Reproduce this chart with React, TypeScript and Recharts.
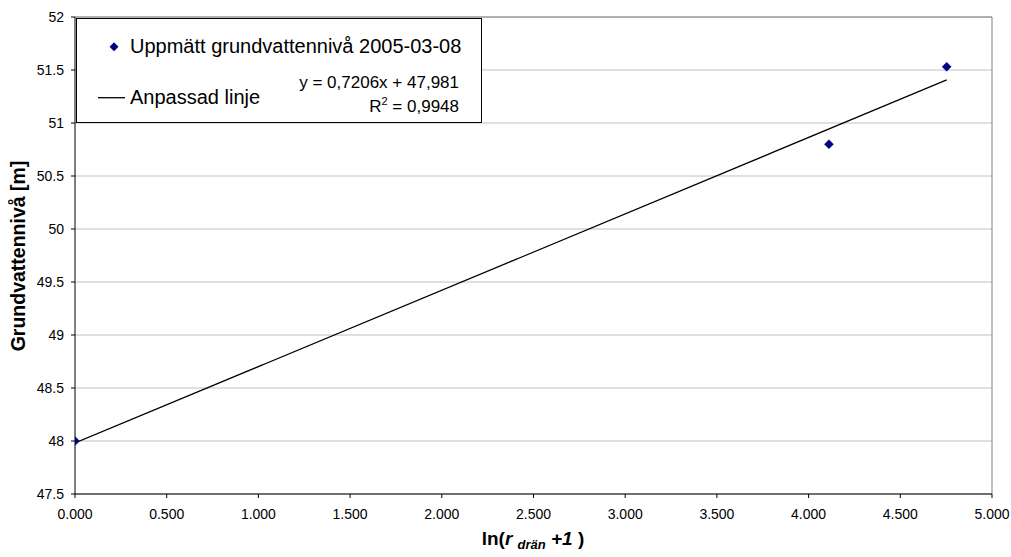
import React from 'react';
import { ScatterChart, Scatter, XAxis, YAxis, CartesianGrid, ReferenceLine } from 'recharts';

// Measured groundwater levels vs ln(r_drän + 1)
const lnDistance = [0.0, 4.111, 4.753];
const groundwaterLevel = [48.0, 50.8, 51.53];

// Fitted line parameters (as printed in the chart)
const slope = 0.7206;
const intercept = 47.981;

const xTicks = [0, 0.5, 1, 1.5, 2, 2.5, 3, 3.5, 4, 4.5, 5];
const yTicks = [47.5, 48, 48.5, 49, 49.5, 50, 50.5, 51, 51.5, 52];

const measured = lnDistance.map((x, i) => ({ x, y: groundwaterLevel[i] }));
const xMin = Math.min(...lnDistance);
const xMax = Math.max(...lnDistance);
const fitted = [
  { x: xMin, y: intercept + slope * xMin },
  { x: xMax, y: intercept + slope * xMax },
];

const FONT = '"Liberation Sans", Arial, Helvetica, sans-serif';
const W = 1003;
const H = 549;

const Diamond = (props: any) => {
  const { cx, cy } = props;
  if (cx == null || cy == null) return <g />;
  const r = 4.5;
  return (
    <polygon
      points={`${cx},${cy - r} ${cx + r},${cy} ${cx},${cy + r} ${cx - r},${cy}`}
      fill="#000080"
      stroke="#000080"
      strokeWidth={0.5}
    />
  );
};

const NoDot = () => <g />;

export default function App() {
  const tickStyle = { fill: '#000', fontSize: 14, fontFamily: FONT };
  return (
    <div style={{ position: 'fixed', left: 8, top: 8, width: W, height: H, background: '#fff' }}>
      <ScatterChart width={W} height={H} margin={{ top: 9, right: 19, bottom: 0, left: 0 }}>
        <CartesianGrid vertical={false} stroke="#c0c0c0" />
        <XAxis
          type="number"
          dataKey="x"
          domain={[0, 5]}
          ticks={xTicks}
          tickFormatter={(v: number) => v.toFixed(3)}
          height={63}
          tickSize={4}
          tickMargin={11}
          axisLine={{ stroke: '#000' }}
          tickLine={{ stroke: '#000' }}
          tick={tickStyle}
          interval={0}
          allowDataOverflow
        />
        <YAxis
          type="number"
          dataKey="y"
          domain={[47.5, 52]}
          ticks={yTicks}
          width={67}
          tickSize={4}
          tickMargin={7}
          axisLine={{ stroke: '#000' }}
          tickLine={{ stroke: '#000' }}
          tick={tickStyle}
          interval={0}
          allowDataOverflow
        />
        <ReferenceLine y={52} stroke="#808080" />
        <ReferenceLine x={5} stroke="#808080" />
        <Scatter
          data={fitted}
          line={{ stroke: '#000', strokeWidth: 1.3 }}
          shape={NoDot}
          legendType="none"
          isAnimationActive={false}
        />
        <Scatter data={measured} shape={Diamond} isAnimationActive={false} />
      </ScatterChart>

      <svg
        width={W}
        height={H}
        style={{ position: 'absolute', left: 0, top: 0, pointerEvents: 'none' }}
        fontFamily={FONT}
      >
        {/* legend box */}
        <rect x={68.5} y={10.5} width={405} height={104} fill="#fff" stroke="#000" strokeWidth={1} />
        <polygon points="106,34.2 110.5,38.7 106,43.2 101.5,38.7" fill="#000080" />
        <text x={122} y={44.5} fontSize={20} fill="#000">
          Uppmätt grundvattennivå 2005-03-08
        </text>
        <line x1={90} y1={89.7} x2={117} y2={89.7} stroke="#000" strokeWidth={1.3} />
        <text x={122} y={95.5} fontSize={20} fill="#000">
          Anpassad linje
        </text>

        {/* trendline equation */}
        <text x={451} y={79.7} fontSize={17} fill="#000" textAnchor="end">
          y = 0,7206x + 47,981
        </text>
        <text x={451} y={103.7} fontSize={17} fill="#000" textAnchor="end">
          R<tspan dy={-7} fontSize={11}>2</tspan>
          <tspan dy={7}> = 0,9948</tspan>
        </text>

        {/* axis titles */}
        <text
          x={0}
          y={0}
          fontSize={19.5}
          fontWeight="bold"
          fill="#000"
          textAnchor="middle"
          transform="translate(17,248) rotate(-90)"
        >
          Grundvattennivå [m]
        </text>
        <text x={525} y={537} fontSize={19} fontWeight="bold" fill="#000" textAnchor="middle">
          ln(
          <tspan fontStyle="italic">r </tspan>
          <tspan fontStyle="italic" fontSize={13} dy={4}>drän</tspan>
          <tspan fontStyle="italic" dy={-4}> +1 </tspan>
          <tspan>)</tspan>
        </text>
      </svg>
    </div>
  );
}
